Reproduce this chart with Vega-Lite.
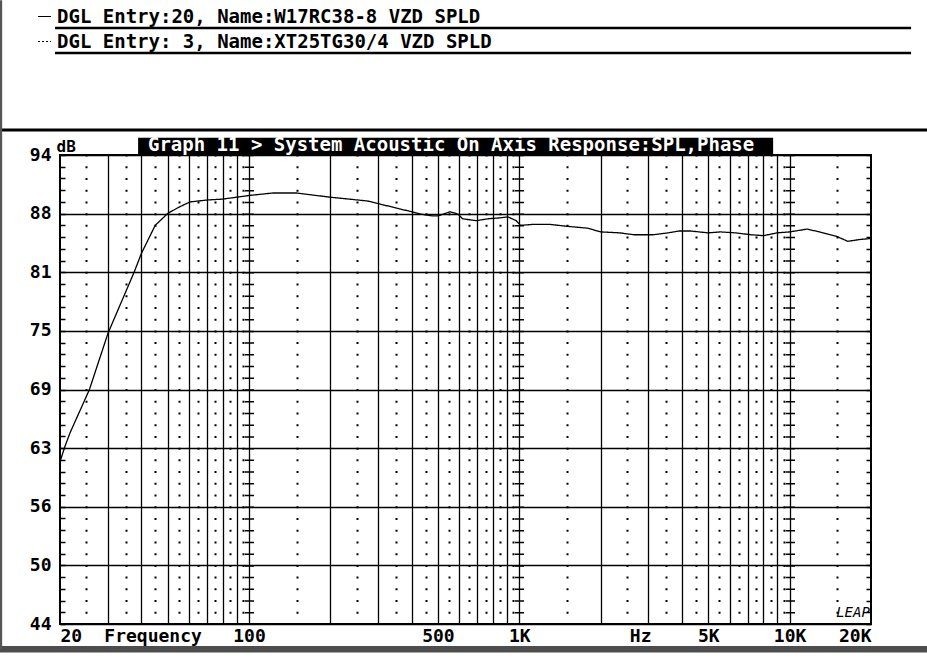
{
  "$schema": "https://vega.github.io/schema/vega-lite/v6.json",
  "autosize": "none",
  "width": 811,
  "height": 469,
  "padding": {"left": 60, "top": 155, "right": 56, "bottom": 42},
  "background": "white",
  "config": {
    "view": {"stroke": "black", "strokeWidth": 2},
    "font": "DejaVu Sans Mono"
  },
  "resolve": {"axis": {"x": "independent", "y": "independent"}},
  "layer": [
    {
      "data": {"values": [{}]},
      "mark": {"type": "rect", "color": "black"},
      "encoding": {
        "x": {"datum": 38.9, "type": "quantitative",
          "scale": {"type": "log", "domain": [20, 20000], "nice": false},
          "axis": {"orient": "bottom", "title": null, "values": [30,40,50,60,70,80,90,100,200,300,400,500,600,700,800,900,1000,2000,3000,4000,5000,6000,7000,8000,9000,10000],
            "grid": true, "gridColor": "black", "gridOpacity": 1, "gridWidth": 1.3, "labels": false, "ticks": false, "domain": false}},
        "x2": {"datum": 8690},
        "y": {"datum": 94, "type": "quantitative",
          "scale": {"domain": [44, 94], "nice": false, "zero": false},
          "axis": {"orient": "left", "title": "dB", "titleAngle": 0, "titleX": -4, "titleY": -4, "titleAlign": "left", "titleBaseline": "alphabetic",
            "titleFont": "DejaVu Sans Mono", "titleFontSize": 16, "titleFontWeight": "bold", "titleColor": "black",
            "values": [44, 50.25, 56.5, 62.75, 69, 75.25, 81.5, 87.75, 94],
            "labelExpr": "datum.value==44?'44':datum.value==50.25?'50':datum.value==56.5?'56':datum.value==62.75?'63':datum.value==69?'69':datum.value==75.25?'75':datum.value==81.5?'81':datum.value==87.75?'88':'94'",
            "labelFont": "DejaVu Sans Mono", "labelFontSize": 18, "labelFontWeight": "bold", "labelColor": "black", "labelPadding": 9, "labelOverlap": false, "labelFlush": false,
            "grid": true, "gridColor": "black", "gridOpacity": 1, "gridWidth": 1.5, "ticks": false, "domain": false}},
        "y2": {"datum": 95.84}
      }
    },
    {
      "data": {"values": [{}]},
      "mark": {"type": "text", "text": "Graph 11 > System Acoustic On Axis Response:SPL,Phase", "font": "DejaVu Sans Mono", "fontSize": 19, "fontWeight": "bold", "color": "white", "align": "left", "baseline": "alphabetic"},
      "encoding": {
        "x": {"datum": 42.3, "type": "quantitative", "scale": {"type": "log", "domain": [20, 20000], "nice": false}, "axis": null},
        "y": {"datum": 94.45, "type": "quantitative", "scale": {"domain": [44, 94], "nice": false, "zero": false}, "axis": null}
      }
    },
    {
      "data": {"values": [
        {"f": 20, "db": 61.3, "name": "DGL Entry:20, Name:W17RC38-8 VZD SPLD"},
        {"f": 20.9, "db": 63.0, "name": "DGL Entry:20, Name:W17RC38-8 VZD SPLD"},
        {"f": 21.8, "db": 64.4, "name": "DGL Entry:20, Name:W17RC38-8 VZD SPLD"},
        {"f": 25.7, "db": 69.0, "name": "DGL Entry:20, Name:W17RC38-8 VZD SPLD"},
        {"f": 30.1, "db": 75.0, "name": "DGL Entry:20, Name:W17RC38-8 VZD SPLD"},
        {"f": 37.6, "db": 81.5, "name": "DGL Entry:20, Name:W17RC38-8 VZD SPLD"},
        {"f": 40, "db": 83.5, "name": "DGL Entry:20, Name:W17RC38-8 VZD SPLD"},
        {"f": 45, "db": 86.5, "name": "DGL Entry:20, Name:W17RC38-8 VZD SPLD"},
        {"f": 50.2, "db": 87.8, "name": "DGL Entry:20, Name:W17RC38-8 VZD SPLD"},
        {"f": 55.6, "db": 88.5, "name": "DGL Entry:20, Name:W17RC38-8 VZD SPLD"},
        {"f": 60.6, "db": 89.0, "name": "DGL Entry:20, Name:W17RC38-8 VZD SPLD"},
        {"f": 70, "db": 89.2, "name": "DGL Entry:20, Name:W17RC38-8 VZD SPLD"},
        {"f": 80, "db": 89.3, "name": "DGL Entry:20, Name:W17RC38-8 VZD SPLD"},
        {"f": 90, "db": 89.5, "name": "DGL Entry:20, Name:W17RC38-8 VZD SPLD"},
        {"f": 101, "db": 89.7, "name": "DGL Entry:20, Name:W17RC38-8 VZD SPLD"},
        {"f": 123, "db": 89.95, "name": "DGL Entry:20, Name:W17RC38-8 VZD SPLD"},
        {"f": 150, "db": 89.95, "name": "DGL Entry:20, Name:W17RC38-8 VZD SPLD"},
        {"f": 200, "db": 89.5, "name": "DGL Entry:20, Name:W17RC38-8 VZD SPLD"},
        {"f": 274, "db": 89.1, "name": "DGL Entry:20, Name:W17RC38-8 VZD SPLD"},
        {"f": 393, "db": 88.0, "name": "DGL Entry:20, Name:W17RC38-8 VZD SPLD"},
        {"f": 431, "db": 87.7, "name": "DGL Entry:20, Name:W17RC38-8 VZD SPLD"},
        {"f": 479, "db": 87.5, "name": "DGL Entry:20, Name:W17RC38-8 VZD SPLD"},
        {"f": 500, "db": 87.5, "name": "DGL Entry:20, Name:W17RC38-8 VZD SPLD"},
        {"f": 555, "db": 87.95, "name": "DGL Entry:20, Name:W17RC38-8 VZD SPLD"},
        {"f": 593, "db": 87.7, "name": "DGL Entry:20, Name:W17RC38-8 VZD SPLD"},
        {"f": 617, "db": 87.2, "name": "DGL Entry:20, Name:W17RC38-8 VZD SPLD"},
        {"f": 694, "db": 87.0, "name": "DGL Entry:20, Name:W17RC38-8 VZD SPLD"},
        {"f": 766, "db": 87.2, "name": "DGL Entry:20, Name:W17RC38-8 VZD SPLD"},
        {"f": 850, "db": 87.3, "name": "DGL Entry:20, Name:W17RC38-8 VZD SPLD"},
        {"f": 908, "db": 87.4, "name": "DGL Entry:20, Name:W17RC38-8 VZD SPLD"},
        {"f": 974, "db": 87.0, "name": "DGL Entry:20, Name:W17RC38-8 VZD SPLD"},
        {"f": 1010, "db": 86.5, "name": "DGL Entry:20, Name:W17RC38-8 VZD SPLD"},
        {"f": 1120, "db": 86.6, "name": "DGL Entry:20, Name:W17RC38-8 VZD SPLD"},
        {"f": 1300, "db": 86.6, "name": "DGL Entry:20, Name:W17RC38-8 VZD SPLD"},
        {"f": 1500, "db": 86.4, "name": "DGL Entry:20, Name:W17RC38-8 VZD SPLD"},
        {"f": 1790, "db": 86.2, "name": "DGL Entry:20, Name:W17RC38-8 VZD SPLD"},
        {"f": 2000, "db": 85.8, "name": "DGL Entry:20, Name:W17RC38-8 VZD SPLD"},
        {"f": 2350, "db": 85.7, "name": "DGL Entry:20, Name:W17RC38-8 VZD SPLD"},
        {"f": 2650, "db": 85.5, "name": "DGL Entry:20, Name:W17RC38-8 VZD SPLD"},
        {"f": 3130, "db": 85.5, "name": "DGL Entry:20, Name:W17RC38-8 VZD SPLD"},
        {"f": 3550, "db": 85.7, "name": "DGL Entry:20, Name:W17RC38-8 VZD SPLD"},
        {"f": 3900, "db": 85.9, "name": "DGL Entry:20, Name:W17RC38-8 VZD SPLD"},
        {"f": 4300, "db": 85.9, "name": "DGL Entry:20, Name:W17RC38-8 VZD SPLD"},
        {"f": 4990, "db": 85.7, "name": "DGL Entry:20, Name:W17RC38-8 VZD SPLD"},
        {"f": 5550, "db": 85.8, "name": "DGL Entry:20, Name:W17RC38-8 VZD SPLD"},
        {"f": 6300, "db": 85.7, "name": "DGL Entry:20, Name:W17RC38-8 VZD SPLD"},
        {"f": 7200, "db": 85.5, "name": "DGL Entry:20, Name:W17RC38-8 VZD SPLD"},
        {"f": 8000, "db": 85.4, "name": "DGL Entry:20, Name:W17RC38-8 VZD SPLD"},
        {"f": 9000, "db": 85.7, "name": "DGL Entry:20, Name:W17RC38-8 VZD SPLD"},
        {"f": 10000, "db": 85.8, "name": "DGL Entry:20, Name:W17RC38-8 VZD SPLD"},
        {"f": 11600, "db": 86.1, "name": "DGL Entry:20, Name:W17RC38-8 VZD SPLD"},
        {"f": 12900, "db": 85.8, "name": "DGL Entry:20, Name:W17RC38-8 VZD SPLD"},
        {"f": 15000, "db": 85.3, "name": "DGL Entry:20, Name:W17RC38-8 VZD SPLD"},
        {"f": 16400, "db": 84.8, "name": "DGL Entry:20, Name:W17RC38-8 VZD SPLD"},
        {"f": 18300, "db": 85.0, "name": "DGL Entry:20, Name:W17RC38-8 VZD SPLD"},
        {"f": 20000, "db": 85.1, "name": "DGL Entry:20, Name:W17RC38-8 VZD SPLD"}
      ]},
      "mark": {"type": "line", "color": "black", "strokeWidth": 1.3},
      "encoding": {
        "x": {"field": "f", "type": "quantitative", "scale": {"type": "log", "domain": [20, 20000], "nice": false}, "axis": null},
        "y": {"field": "db", "type": "quantitative", "scale": {"domain": [44, 94], "nice": false, "zero": false}, "axis": null},
        "strokeDash": {"field": "name", "type": "nominal",
          "scale": {"domain": ["DGL Entry:20, Name:W17RC38-8 VZD SPLD", "DGL Entry: 3, Name:XT25TG30/4 VZD SPLD"], "range": [[1, 0], [2, 2]]},
          "legend": {"orient": "none", "legendX": -25, "legendY": -148, "direction": "vertical", "title": null,
            "symbolType": "stroke", "symbolSize": 169, "symbolStrokeWidth": 1, "symbolStrokeColor": "black",
            "labelFont": "DejaVu Sans Mono", "labelFontSize": 19, "labelFontWeight": "bold", "labelColor": "black",
            "labelOffset": 3, "labelLimit": 0, "rowPadding": 5}}
      }
    },
    {
      "data": {"values": [{}]},
      "mark": {"type": "rule", "color": "black", "strokeWidth": 2.5},
      "encoding": {
        "x": {"datum": 19.17, "type": "quantitative",
          "scale": {"type": "log", "domain": [20, 20000], "nice": false},
          "axis": {"orient": "bottom", "title": null, "values": [25,35,45,55,65,75,85,95,150,250,350,450,550,650,750,850,950,1500,2500,3500,4500,5500,6500,7500,8500,9500,15000],
            "grid": true, "gridColor": "black", "gridOpacity": 1, "gridWidth": 2, "gridDash": [2, 9.725], "gridDashOffset": 1,
            "labels": false, "ticks": false, "domain": false}},
        "x2": {"datum": 28140},
        "y": {"datum": 107.54, "type": "quantitative",
          "scale": {"domain": [44, 94], "nice": false, "zero": false},
          "axis": {"orient": "left", "title": null, "values": [44,45.25,46.5,47.75,49,50.25,51.5,52.75,54,55.25,56.5,57.75,59,60.25,61.5,62.75,64,65.25,66.5,67.75,69,70.25,71.5,72.75,74,75.25,76.5,77.75,79,80.25,81.5,82.75,84,85.25,86.5,87.75,89,90.25,91.5,92.75,94],
            "labels": false, "grid": false, "domain": false, "ticks": true, "tickSize": -5, "tickColor": "black", "tickWidth": 1.5, "tickOpacity": 1}}
      }
    },
    {
      "data": {"values": [{}]},
      "mark": {"type": "rule", "color": "black", "strokeWidth": 2.5},
      "encoding": {
        "x": {"datum": 19.17, "type": "quantitative",
          "scale": {"type": "log", "domain": [20, 20000], "nice": false},
          "axis": {"orient": "bottom", "title": null, "values": [100, 1000, 10000],
            "grid": true, "gridColor": "black", "gridOpacity": 1, "gridWidth": 9, "gridDash": [1.5, 10.225], "gridDashOffset": 0.75,
            "labels": false, "ticks": false, "domain": false}},
        "x2": {"datum": 28140},
        "y": {"datum": 104.87, "type": "quantitative",
          "scale": {"domain": [44, 94], "nice": false, "zero": false},
          "axis": {"orient": "right", "title": null, "values": [44,45.25,46.5,47.75,49,50.25,51.5,52.75,54,55.25,56.5,57.75,59,60.25,61.5,62.75,64,65.25,66.5,67.75,69,70.25,71.5,72.75,74,75.25,76.5,77.75,79,80.25,81.5,82.75,84,85.25,86.5,87.75,89,90.25,91.5,92.75,94],
            "labels": false, "grid": false, "domain": false, "ticks": true, "tickSize": -5, "tickColor": "black", "tickWidth": 1.5, "tickOpacity": 1}}
      }
    },
    {
      "data": {"values": [{}]},
      "mark": {"type": "rule", "color": "black", "strokeWidth": 3},
      "encoding": {
        "x": {"datum": 11.99, "type": "quantitative",
          "scale": {"type": "log", "domain": [20, 20000], "nice": false},
          "axis": {"orient": "bottom", "title": null, "values": [20, 44, 100, 500, 1000, 2800, 5000, 10000, 20000],
            "labelExpr": "datum.value==20?'20':datum.value==44?'Frequency':datum.value==100?'100':datum.value==500?'500':datum.value==1000?'1K':datum.value==2800?'Hz':datum.value==5000?'5K':datum.value==10000?'10K':'20K'",
            "labelFont": "DejaVu Sans Mono", "labelFontSize": 18, "labelFontWeight": "bold", "labelColor": "black", "labelPadding": 3,
            "labelFlush": true, "labelOverlap": false, "grid": false, "ticks": false, "domain": false}},
        "x2": {"datum": 32400},
        "y": {"datum": 96.67, "type": "quantitative", "scale": {"domain": [44, 94], "nice": false, "zero": false}, "axis": null}
      }
    },
    {
      "data": {"values": [{}]},
      "mark": {"type": "rect", "color": "#4d4d4d"},
      "encoding": {
        "x": {"datum": 11.99, "type": "quantitative", "scale": {"type": "log", "domain": [20, 20000], "nice": false}, "axis": null},
        "x2": {"datum": 32400},
        "y": {"datum": 40.95, "type": "quantitative", "scale": {"domain": [44, 94], "nice": false, "zero": false}, "axis": null},
        "y2": {"datum": 41.65}
      }
    },
    {
      "data": {"values": [{}]},
      "mark": {"type": "rule", "color": "#555555", "strokeWidth": 2.5},
      "encoding": {
        "x": {"datum": 12.09, "type": "quantitative", "scale": {"type": "log", "domain": [20, 20000], "nice": false}, "axis": null},
        "y": {"datum": 41.3, "type": "quantitative", "scale": {"domain": [44, 94], "nice": false, "zero": false}, "axis": null},
        "y2": {"datum": 110.5}
      }
    },
    {
      "data": {"values": [{}]},
      "mark": {"type": "text", "text": "LEAP", "font": "DejaVu Sans Mono", "fontSize": 14, "fontStyle": "italic", "color": "black"},
      "encoding": {
        "x": {"datum": 17160, "type": "quantitative", "scale": {"type": "log", "domain": [20, 20000], "nice": false}, "axis": null},
        "y": {"datum": 45.2, "type": "quantitative", "scale": {"domain": [44, 94], "nice": false, "zero": false}, "axis": null}
      }
    }
  ]
}
